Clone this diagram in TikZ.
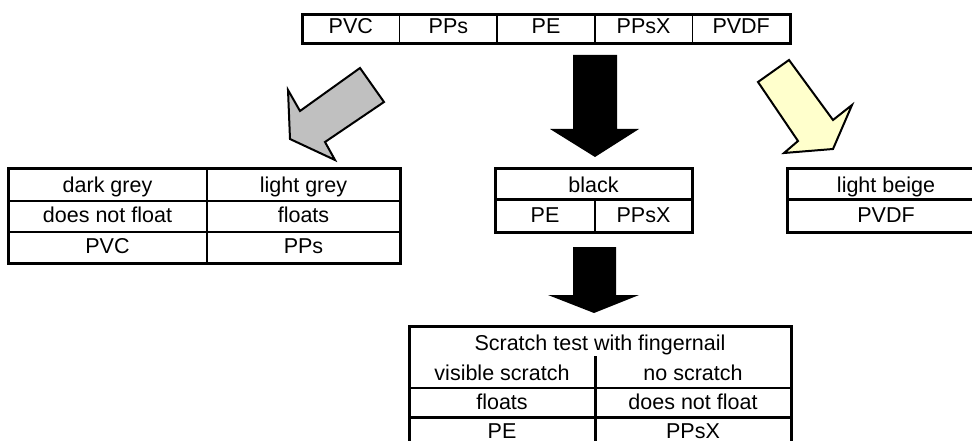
\documentclass[tikz,border=0pt]{standalone}
\usepackage{fontspec}
\setmainfont{Liberation Sans}
\definecolor{agrey}{HTML}{C0C0C0}
\definecolor{ayellow}{HTML}{FFFFCC}
\begin{document}
\begin{tikzpicture}[x=1pt,y=-1pt,
  bl/.style={line width=3pt},
  ml/.style={line width=2.4pt},
  tl/.style={line width=1.6pt},
  txt/.style={anchor=base,inner sep=0pt,font=\fontsize{21.5}{24}\selectfont},
  blockarrow/.style={draw=black,line width=2pt,line join=miter},
  blackarrow/.style={fill=black}]
\useasboundingbox (0,0) rectangle (972,441);

% ---- top table
\draw[bl] (302,14.5) rectangle (790,43.5);
\foreach \x in {399.6,497.2,594.8,692.4} \draw[tl] (\x,14.5) -- (\x,43.5);
\node[txt] (pvc)  at (350.8,34) {PVC};
\node[txt] (pps)  at (448.4,34) {PPs};
\node[txt] (pe)   at (546,34) {PE};
\node[txt] (ppsx) at (643.6,34) {PPsX};
\node[txt] (pvdf) at (741.2,34) {PVDF};

% ---- arrows
\fill[blackarrow] (573,55) -- (617,55) -- (617,129) -- (639,129) -- (595,157) -- (550,129) -- (573,129) -- cycle;
\fill[blackarrow] (573,247) -- (616,247) -- (616,295) -- (639,295) -- (594,313) -- (548,295) -- (573,295) -- cycle;
\filldraw[blockarrow,fill=agrey] (360,68) -- (384,102) -- (325,142) -- (335,160) -- (290,139) -- (288,90) -- (300,111) -- cycle;
\filldraw[blockarrow,fill=ayellow] (758,82) -- (789,60) -- (833,120) -- (852,105) -- (833,149) -- (784,153) -- (798,141) -- cycle;

% ---- left table
\draw[bl] (8,168.5) rectangle (400,263);
\draw[ml] (207,168.5) -- (207,263);
\draw[ml] (8,201) -- (400,201);
\draw[ml] (8,232) -- (400,232);
\node[txt] (dg)  at (107.5,192) {dark grey};
\node[txt] (lg)  at (303.5,192) {light grey};
\node[txt] (dnf) at (107.5,222) {does not float};
\node[txt] (fl)  at (303.5,222) {floats};
\node[txt] (lpvc) at (107.5,253.5) {PVC};
\node[txt] (lpps) at (303.5,253.5) {PPs};

% ---- middle table
\draw[bl] (495,168.5) rectangle (692,232);
\draw[bl] (495,199.5) -- (692,199.5);
\draw[tl] (595,199.5) -- (595,232);
\node[txt] (blk)  at (593.5,192) {black};
\node[txt] (mpe)  at (545,222) {PE};
\node[txt] (mppsx) at (643.5,222) {PPsX};

% ---- right table
\draw[bl] (787,168.5) rectangle (990,232);
\draw[bl] (787,199.5) -- (990,199.5);
\node[txt] (lb)   at (886,192) {light beige};
\node[txt] (rpvdf) at (886,222) {PVDF};

% ---- bottom table
\draw[bl] (409,326) rectangle (791,452);
\draw[bl] (595,356) -- (595,452);
\draw[tl] (409,388) -- (791,388);
\draw[bl] (409,417) -- (791,417);
\node[txt] (st)  at (600,350) {Scratch test with fingernail};
\node[txt] (vs)  at (502,380) {visible scratch};
\node[txt] (ns)  at (693,380) {no scratch};
\node[txt] (bfl) at (502,409) {floats};
\node[txt] (bdnf) at (693,409) {does not float};
\node[txt] (bpe) at (502,438) {PE};
\node[txt] (bppsx) at (693,438) {PPsX};
\end{tikzpicture}
\end{document}
